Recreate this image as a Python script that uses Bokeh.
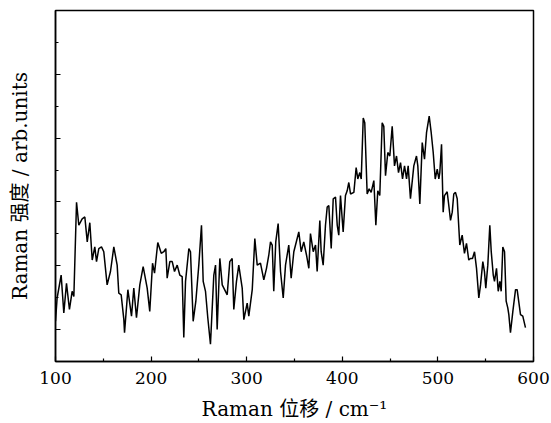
from bokeh.plotting import figure
from bokeh.models import Range1d, FixedTicker, CustomLabelingPolicy
from bokeh.embed import file_html
from bokeh.resources import INLINE

# Raman shift (cm^-1) and intensity (arb. units)
shift = [100.0, 101.7, 105.9, 108.7, 111.5, 114.6, 117.4, 119.2, 122.0, 124.4,
         127.9, 130.7, 133.2, 135.9, 138.4, 141.1, 142.9, 145.3, 148.1, 150.5,
         154.0, 157.5, 161.0, 164.5, 166.2, 168.7, 171.5, 172.2, 175.7, 179.5,
         181.9, 184.7, 188.2, 191.7, 195.9, 198.6, 201.5, 203.6, 207.0, 210.6,
         213.3, 215.4, 216.8, 219.6, 222.1, 224.5, 227.3, 230.0, 232.5, 234.2,
         236.0, 239.5, 241.2, 244.0, 246.8, 249.9, 252.7, 254.5, 256.9, 259.3,
         262.1, 265.6, 267.4, 269.1, 271.9, 274.4, 279.6, 282.3, 284.8, 286.5,
         289.3, 291.7, 295.3, 297.0, 300.5, 302.2, 305.8, 308.5, 311.0, 314.4,
         317.9, 320.7, 323.1, 324.9, 326.7, 328.3, 330.4, 332.9, 335.4, 338.2,
         340.6, 344.0, 346.5, 349.3, 354.5, 357.0, 359.7, 362.6, 365.0, 366.7,
         369.6, 372.0, 373.7, 376.5, 377.9, 380.0, 382.4, 384.2, 385.9, 388.4,
         390.5, 392.9, 394.7, 396.3, 398.1, 400.9, 403.3, 405.1, 406.8, 408.6,
         412.1, 414.5, 416.2, 418.3, 419.8, 421.9, 423.5, 426.0, 428.1, 430.2,
         433.0, 435.1, 437.1, 439.2, 441.7, 443.4, 445.2, 447.6, 449.7, 452.2,
         454.6, 456.7, 458.8, 460.9, 463.0, 465.1, 467.2, 468.9, 471.3, 474.8,
         477.6, 479.0, 481.1, 483.6, 486.0, 488.1, 490.9, 493.0, 495.1, 497.2,
         499.3, 501.0, 502.0, 503.8, 505.5, 506.9, 509.7, 511.4, 513.2, 515.0,
         516.6, 518.4, 520.2, 522.9, 525.4, 527.8, 529.9, 532.3, 534.1, 536.2,
         538.3, 540.4, 542.8, 544.6, 547.0, 548.7, 550.1, 552.2, 554.3, 555.8,
         557.9, 559.2, 561.3, 563.1, 564.8, 566.2, 567.9, 569.7, 571.4, 573.1,
         574.2, 575.9, 578.4, 581.2, 582.9, 585.0, 586.4, 588.8, 591.6]

intensity = [1.26, 1.99, 2.71, 1.52, 2.45, 1.63, 2.20, 2.04, 4.99, 4.27,
             4.47, 4.53, 3.75, 4.35, 3.18, 3.59, 3.13, 3.54, 3.59, 3.44,
             2.40, 2.82, 3.59, 3.02, 2.14, 2.09, 1.31, 0.90, 2.25, 1.42,
             2.30, 1.37, 2.40, 2.97, 2.30, 1.57, 3.08, 2.77, 3.73, 3.39,
             3.44, 3.54, 2.61, 3.13, 3.13, 2.82, 3.02, 2.71, 2.66, 0.75,
             2.51, 3.54, 3.44, 1.26, 1.89, 3.02, 4.27, 2.51, 2.20, 1.37,
             0.54, 2.71, 3.02, 1.00, 3.23, 2.40, 2.09, 3.13, 3.23, 1.63,
             2.51, 3.02, 2.30, 1.31, 1.83, 1.42, 2.25, 3.85, 3.02, 3.08,
             2.56, 2.92, 3.33, 3.75, 3.65, 2.20, 3.75, 4.32, 2.82, 1.99,
             3.02, 3.65, 2.61, 3.44, 4.06, 3.44, 3.75, 3.33, 2.92, 4.01,
             3.44, 3.65, 2.82, 4.42, 3.44, 3.02, 4.27, 4.84, 4.89, 3.54,
             5.10, 5.15, 4.27, 3.96, 5.20, 4.06, 5.20, 5.35, 5.61, 5.25,
             5.30, 6.08, 5.72, 5.92, 5.72, 7.63, 7.48, 5.25, 5.41, 5.30,
             5.67, 4.27, 5.35, 5.20, 7.48, 7.37, 5.82, 6.55, 6.44, 7.37,
             6.13, 6.44, 5.92, 6.23, 5.72, 6.13, 5.72, 6.13, 5.10, 6.13,
             6.44, 6.13, 4.94, 6.86, 6.34, 7.17, 7.69, 7.17, 6.55, 5.72,
             6.03, 5.72, 5.92, 6.81, 4.68, 5.20, 5.32, 4.89, 4.42, 4.68,
             5.25, 5.30, 5.10, 3.65, 3.96, 3.39, 3.70, 3.18, 3.23, 3.23,
             3.44, 2.92, 1.99, 2.40, 3.13, 2.82, 2.30, 3.02, 4.27, 3.44,
             2.71, 2.51, 2.92, 2.20, 2.51, 2.20, 3.59, 3.44, 1.89, 1.68,
             1.47, 0.90, 1.57, 2.25, 2.25, 1.78, 1.47, 1.42, 1.06]

x_ticks = [100, 200, 300, 400, 500, 600]
x_minor = [150, 250, 350, 450, 550]
y_ticks = [1, 3, 5, 7, 9]
y_minor = [2, 4, 6, 8, 10]

SERIF = "'DejaVu Serif', 'Noto Sans CJK SC'"

p = figure(width=551, height=423, output_backend="svg", toolbar_location=None,
           x_range=Range1d(100, 600), y_range=Range1d(0, 11),
           min_border_left=55, min_border_right=18, min_border_top=10,
           min_border_bottom=59)

p.line(shift, intensity, line_color="black", line_width=1.5)

p.grid.visible = False
p.outline_line_color = "black"
p.outline_line_width = 1.5
p.background_fill_color = "white"

xa = p.xaxis[0]
xa.ticker = FixedTicker(ticks=x_ticks, minor_ticks=x_minor)
ya = p.yaxis[0]
ya.ticker = FixedTicker(ticks=y_ticks, minor_ticks=y_minor)

for ax in (xa, ya):
    ax.axis_line_color = "black"
    ax.axis_line_width = 1.5
    ax.major_tick_in = 5
    ax.major_tick_out = 0
    ax.minor_tick_in = 3
    ax.minor_tick_out = 0
    ax.major_tick_line_color = "black"
    ax.minor_tick_line_color = "black"
    ax.major_tick_line_width = 1.2
    ax.minor_tick_line_width = 1.2
    ax.axis_label_text_font = SERIF
    ax.axis_label_text_font_style = "normal"
    ax.axis_label_text_font_size = "20px"
    ax.axis_label_text_color = "black"

xa.major_label_text_font = SERIF
xa.major_label_text_font_size = "17px"
xa.major_label_text_color = "black"
xa.major_label_standoff = 10
xa.axis_label = "Raman 位移 / cm\u207b\u00b9"
xa.axis_label_standoff = 10

# the reference shows no numbers on the intensity axis
ya.major_label_policy = CustomLabelingPolicy(
    code="const a = [...indices]; for (const i of a) indices.unset(i); return indices")
ya.major_label_standoff = 0
ya.axis_label = "Raman 强度 / arb.units"
ya.axis_label_standoff = 14

open("out.html", "w").write(file_html(p, INLINE))
